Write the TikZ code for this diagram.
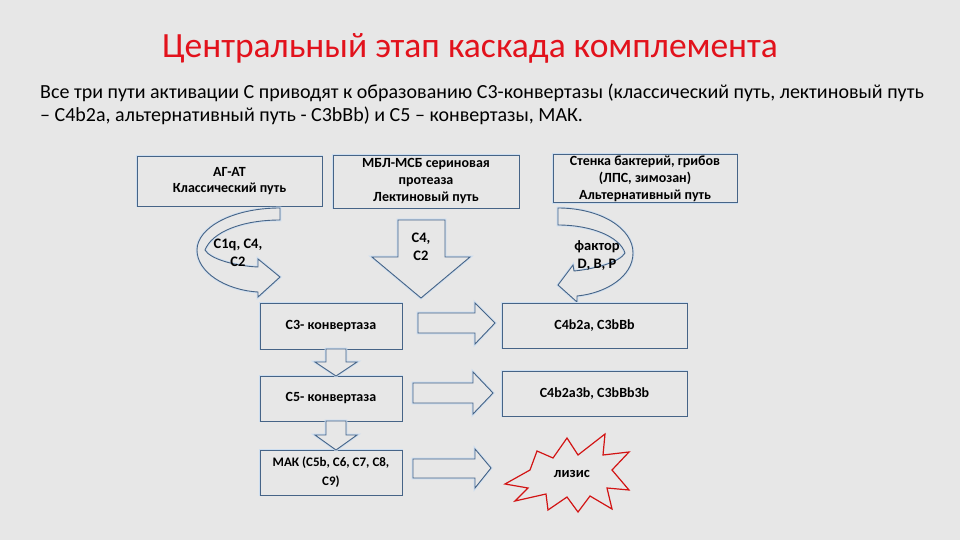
\documentclass[tikz,border=0pt]{standalone}
\usepackage{fontspec}
\setmainfont{Carlito}
\definecolor{bgc}{RGB}{231,231,231}
\definecolor{boxc}{RGB}{70,100,135}
\definecolor{glowc}{RGB}{205,222,240}
\definecolor{titlec}{RGB}{226,18,28}
\definecolor{starc}{RGB}{210,20,20}
\tikzset{
  box/.style={draw=boxc, line width=0.9pt, fill=bgc, align=center, inner sep=1pt,
    preaction={draw=glowc, line width=2.6pt},
    font=\bfseries\fontsize{14}{17}\selectfont},
  barrow/.style={draw=boxc, line width=0.9pt, fill=bgc, line join=miter,
    preaction={draw=glowc, line width=2.6pt}},
  lbl/.style={font=\bfseries\fontsize{14.5}{18}\selectfont, align=center},
}
\begin{document}
\begin{tikzpicture}[x=1pt,y=-1pt]
\fill[bgc] (0,0) rectangle (960,540);
\useasboundingbox (0,0) rectangle (960,540);

% title and intro
\node[text=titlec, font=\fontsize{35.5}{40}\selectfont] (title) at (470,48) {Центральный этап каскада комплемента};
\node[anchor=west, font=\fontsize{20}{23}\selectfont, inner sep=0pt] (intro1) at (40,93) {Все три пути активации С приводят к образованию С3-конвертазы (классический путь, лектиновый путь};
\node[anchor=west, font=\fontsize{20}{23}\selectfont, inner sep=0pt] (intro2) at (40,116) {– С4b2a, альтернативный путь - С3bBb) и С5 – конвертазы, МАК.};

% top boxes
\node[box, minimum width=185pt, minimum height=50pt, font=\bfseries\fontsize{14}{16}\selectfont] (b1) at (229.5,181) {АГ-АТ\\Классический путь};
\node[box, minimum width=186pt, minimum height=53pt] (b2) at (426,181.5) {МБЛ-МСБ сериновая\\протеаза\\Лектиновый путь};
\node[box, minimum width=184pt, minimum height=47pt] (b3) at (645,178.5) {Стенка бактерий, грибов\\(ЛПС, зимозан)\\Альтернативный путь};

% curved arrow left
\draw[barrow] (280,208) .. controls (232,208) and (197,228) .. (197,250)
  .. controls (197,272) and (225,290) .. (258,292) -- (258,297) -- (280,277) -- (258,259) -- (258,267)
  .. controls (235,266) and (210,259) .. (205,250)
  .. controls (212,232) and (242,220) .. (280,220) -- cycle;
\node[lbl] (l1) at (238,253) {С1q, С4,\\С2};

% down arrow middle
\draw[barrow] (398,220) -- (445,220) -- (445,257) -- (470,257) -- (421,298) -- (372,257) -- (398,257) -- cycle;
\node[lbl] (l2) at (421,247) {С4,\\С2};

% curved arrow right
\draw[barrow] (558,208) .. controls (600,208) and (633,228) .. (633,253)
  .. controls (633,276) and (607,293) .. (577,296) -- (577,302) -- (558,285) -- (573,265) -- (574,271)
  .. controls (595,269) and (620,262) .. (625,253)
  .. controls (620,237) and (592,225) .. (558,225) -- cycle;
\node[lbl] (l3) at (597,256) {фактор\\D, B, P};

% middle column
\node[box, minimum width=142pt, minimum height=46pt] (c3) at (331,326) {С3- конвертаза};
\node[box, minimum width=142pt, minimum height=45pt] (c5) at (331,398.5) {С5- конвертаза};
\node[box, minimum width=142pt, minimum height=45pt, font=\bfseries\fontsize{13}{19}\selectfont] (mak) at (331,472.5) {МАК (С5b, С6, С7, С8,\\С9)};

% small down arrows
\draw[barrow] (326,349) -- (346,349) -- (346,362) -- (357,362) -- (336,376) -- (315,362) -- (326,362) -- cycle;
\draw[barrow] (326,421) -- (346,421) -- (346,435) -- (357,435) -- (336,450) -- (315,435) -- (326,435) -- cycle;

% right arrows
\draw[barrow] (418,313) -- (475,313) -- (475,303) -- (495,323) -- (475,344) -- (475,333) -- (418,333) -- cycle;
\draw[barrow] (413,383) -- (473,383) -- (473,372) -- (493,393) -- (473,414) -- (473,403) -- (413,403) -- cycle;
\draw[barrow] (413,459) -- (475,459) -- (475,449) -- (491,468) -- (475,488) -- (475,478) -- (413,478) -- cycle;

% right boxes
\node[box, minimum width=185pt, minimum height=45pt] (r1) at (594.5,325.5) {С4b2a, С3bBb};
\node[box, minimum width=185pt, minimum height=45pt] (r2) at (594.5,393.5) {С4b2a3b, С3bBb3b};

% starburst
\draw[draw=starc, line width=1.2pt, fill=bgc, line join=miter]
  (505,484) -- (530,470) -- (537,451) -- (553,458) -- (567,438) -- (578,455) -- (605,434) -- (603,455)
  -- (629,452) -- (612,470) -- (629,490) -- (607,488) -- (612,509) -- (590,496) -- (578,512) -- (567,497)
  -- (548,510) -- (546,494) -- (515,501) -- (528,488) -- cycle;
\node[font=\bfseries\fontsize{14.5}{16}\selectfont] (lys) at (572,474) {лизис};
\end{tikzpicture}
\end{document}
